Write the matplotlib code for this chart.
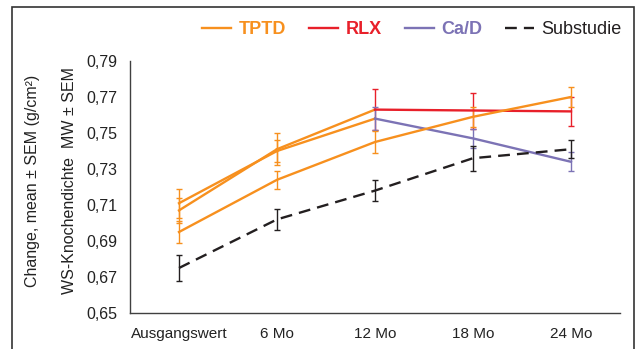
#!/usr/bin/env python3

import matplotlib
matplotlib.use('Agg')
import matplotlib.pyplot as plt
from matplotlib.lines import Line2D
from matplotlib.patches import Rectangle
import numpy as np

plt.rcParams['font.family'] = ['Liberation Sans', 'DejaVu Sans']

# values (g/cm2)
months = ['Ausgangswert', '6 Mo', '12 Mo', '18 Mo', '24 Mo']
tptd = [0.695, 0.724, 0.745, 0.759, 0.770]
tptd_sem = [0.006, 0.005, 0.006, 0.0056, 0.0053]
rlx = [0.707, 0.741, 0.763, 0.7625, 0.762]
rlx_sem = [0.007, 0.009, 0.0115, 0.010, 0.008]
cad = [0.711, 0.740, 0.758, 0.747, 0.734]
cad_sem = [0.008, 0.006, 0.0064, 0.0055, 0.0053]
sub = [0.675, 0.702, 0.718, 0.736, 0.741]
sub_sem = [0.007, 0.006, 0.006, 0.007, 0.005]
yticks = [0.65, 0.67, 0.69, 0.71, 0.73, 0.75, 0.77, 0.79]

c_tptd = '#F7901E'
c_rlx = '#E8202A'
c_cad = '#7C73B5'
c_sub = '#231F20'

fig = plt.figure(figsize=(6.37, 3.49), dpi=100)
fig.patches.append(Rectangle((12/637, -0.1), (634-12)/637, 1.1 - 7/349,
                             transform=fig.transFigure, fill=False,
                             edgecolor='#333333', linewidth=1.2))
a = 130/637
b = 1 - 313/349
ax = fig.add_axes([a, b, 620/637 - a, (1 - 61/349) - b])
x = np.arange(len(months))

ekw = dict(elinewidth=1.0, capsize=2.5, capthick=1.0)


def draw(vals, sem, color, split=None, **kw):
    vals = np.array(vals)
    sem = np.array(sem)
    if split is None:
        ax.errorbar(x, vals, yerr=sem, color=color, ecolor=color, lw=1.7, **ekw, **kw)
        return
    # first segments are drawn orange in the source chart
    ax.errorbar(x[:split], vals[:split], yerr=sem[:split], color=c_tptd, ecolor=c_tptd,
                lw=1.7, **ekw)
    ax.plot(x[split-1:split+1], vals[split-1:split+1], color=c_tptd, lw=1.7)
    ax.errorbar(x[split:], vals[split:], yerr=sem[split:], color=color, ecolor=color,
                lw=1.7, **ekw)


draw(rlx, rlx_sem, c_rlx, split=2)
draw(cad, cad_sem, c_cad, split=2)
draw(tptd, tptd_sem, c_tptd)
draw(sub, sub_sem, c_sub, dashes=(5, 3))

ax.set_xlim(-0.5, 4.5)
ax.set_ylim(0.65, 0.79)
ax.set_yticks(yticks)
ax.set_yticklabels([('%.2f' % v).replace('.', ',') for v in yticks], fontsize=11.5)
ax.set_xticks(x)
ax.set_xticklabels(months, fontsize=11)
ax.tick_params(axis='y', length=0, pad=9, colors='#222222')
ax.tick_params(axis='x', length=0, pad=10, colors='#222222')
for s in ['top', 'right']:
    ax.spines[s].set_visible(False)
for s in ['left', 'bottom']:
    ax.spines[s].set_color('#404040')
    ax.spines[s].set_linewidth(1.0)

fig.text(33/637, 1 - 181/349, 'Change, mean \u00b1 SEM (g/cm\u00b2)', rotation=90,
         ha='center', va='center', fontsize=11.5, color='#222222')
fig.text(70/637, 1 - 181/349, 'WS-Knochendichte  MW \u00b1 SEM', rotation=90,
         ha='center', va='center', fontsize=11.5, color='#222222')

handles = [Line2D([], [], color=c_tptd, lw=1.7),
           Line2D([], [], color=c_rlx, lw=1.7),
           Line2D([], [], color=c_cad, lw=1.7),
           Line2D([], [], color=c_sub, lw=1.7, dashes=(5, 3))]
leg = fig.legend(handles, ['TPTD', 'RLX', 'Ca/D', 'Substudie'], ncol=4,
                 loc='center', bbox_to_anchor=(412/637, 1 - 30/349), frameon=False,
                 fontsize=13, handlelength=1.6, handletextpad=0.4, columnspacing=1.3,
                 labelcolor=[c_tptd, c_rlx, c_cad, c_sub])
for t in leg.get_texts()[:3]:
    t.set_fontweight('bold')

fig.savefig('out.png', dpi=100)
